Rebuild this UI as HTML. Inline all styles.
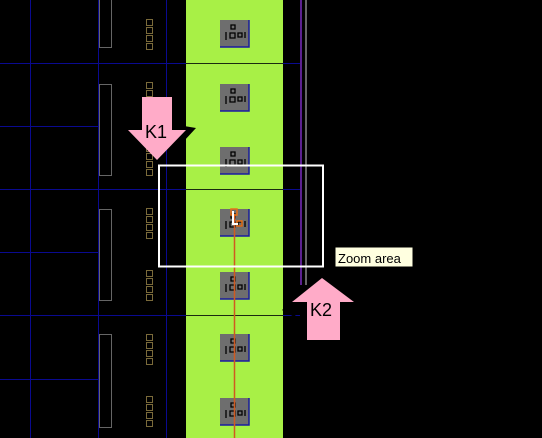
<!DOCTYPE html>
<html><head><meta charset="utf-8"><style>
html,body{margin:0;padding:0;background:#000;width:542px;height:438px;overflow:hidden}
svg{display:block}
</style></head><body>
<svg id="s" width="542" height="438" viewBox="0 0 542 438">
<rect x="0" y="0" width="542" height="438" fill="#000"/>
<g id="grid"></g>
<g id="rects"></g>
<g id="pads"></g>
<rect x="186" y="0" width="97" height="438" fill="#a8f046"/>
<g id="hl"></g>
<g id="cells"></g>
<line x1="301" y1="0" x2="301" y2="285" stroke="#7a2cc0" stroke-width="1.5"/>
<line x1="306" y1="0" x2="306" y2="285" stroke="#888" stroke-width="1.5"/>
<line x1="234.5" y1="214" x2="234.5" y2="438" stroke="#d05a20" stroke-width="1.5"/>
<g>
<rect x="231" y="209" width="6" height="6" fill="none" stroke="#e87018" stroke-width="1.5"/>
<rect x="237" y="221" width="5" height="5" fill="none" stroke="#e87018" stroke-width="1.5"/>
<path d="M233 211 V224 H238" stroke="#fff" stroke-width="2" fill="none"/>
</g>
<rect x="159" y="165.5" width="164" height="101" fill="none" stroke="#fff" stroke-width="2"/>
<g>
<rect x="335" y="247" width="78" height="20" fill="#ffffe0" stroke="#000"/>
<text x="338" y="263" font-family="Liberation Sans, sans-serif" font-size="13" fill="#000">Zoom area</text>
</g>
<g>
<path d="M172 124 L196 128 L184 141 Z" fill="#000"/>
<path d="M142 97 H172 V130 H186 L157 160 L128 130 H142 Z" fill="#ffabc8"/>
<text x="145" y="138" font-family="Liberation Sans, sans-serif" font-size="18" fill="#000">K1</text>
</g>
<g>
<path d="M292 302 L282 310 L296 318 Z" fill="#000"/>
<path d="M322 278 L354 302 H340 V340 H307 V302 H292 Z" fill="#ffabc8"/>
<text x="310" y="316" font-family="Liberation Sans, sans-serif" font-size="18" fill="#000">K2</text>
</g>
</svg>
<script>
const NS="http://www.w3.org/2000/svg";
function mk(t,a,p){const e=document.createElementNS(NS,t);for(const k in a)e.setAttribute(k,a[k]);document.getElementById(p).appendChild(e);return e;}
const fullH=[63,189,315], halfH=[126,252,379], vLines=[30,98,166];
fullH.forEach(y=>{const e=mk('line',{x1:0,y1:y+.5,x2:300,y2:y+.5,stroke:'#0a0a90','stroke-width':1},'grid');

});
halfH.forEach(y=>{const e=mk('line',{x1:0,y1:y+.5,x2:98,y2:y+.5,stroke:'#0a0a90','stroke-width':1},'grid');

});
vLines.forEach(x=>{const e=mk('line',{x1:x+.5,y1:0,x2:x+.5,y2:438,stroke:'#0a0a90','stroke-width':1},'grid');

});
[[-41,47],[84,175],[209,300],[334,427]].forEach(r=>{const e=mk('rect',{x:99.5,y:r[0]+.5,width:12,height:r[1]-r[0],fill:'none',stroke:'#666','stroke-width':1},'rects');

});
[19,82,145,208,270,334,396].forEach(y0=>{for(let i=0;i<4;i++){const e=mk('rect',{x:146.5,y:y0+i*8+.5,width:6,height:6,fill:'none',stroke:'#7a6a3a','stroke-width':1},'pads');

}});
[63,189,315].forEach(y=>{const e=mk('line',{x1:186,y1:y+.5,x2:283,y2:y+.5,stroke:'#1a2a10','stroke-width':1},'hl');

});
[33,97,160,222,285,347,411].forEach(c=>{const t=c-13;
const e=mk('rect',{x:220,y:t,width:29,height:27,fill:'#6e6e6e'},'cells');


mk('path',{d:`M220 ${t+27} H249 V${t}`,stroke:'#1a1aa0','stroke-width':1.5,fill:'none'},'cells');
mk('path',{d:`M231 ${t+5} h4 v4 h-4z M226 ${t+12} v8 M230 ${t+13} h5 v5 h-5z M238 ${t+13} h4 v4 h-4z M245 ${t+12} v6`,stroke:'#000','stroke-width':1.3,fill:'none'},'cells');});
</script>
</body></html>
